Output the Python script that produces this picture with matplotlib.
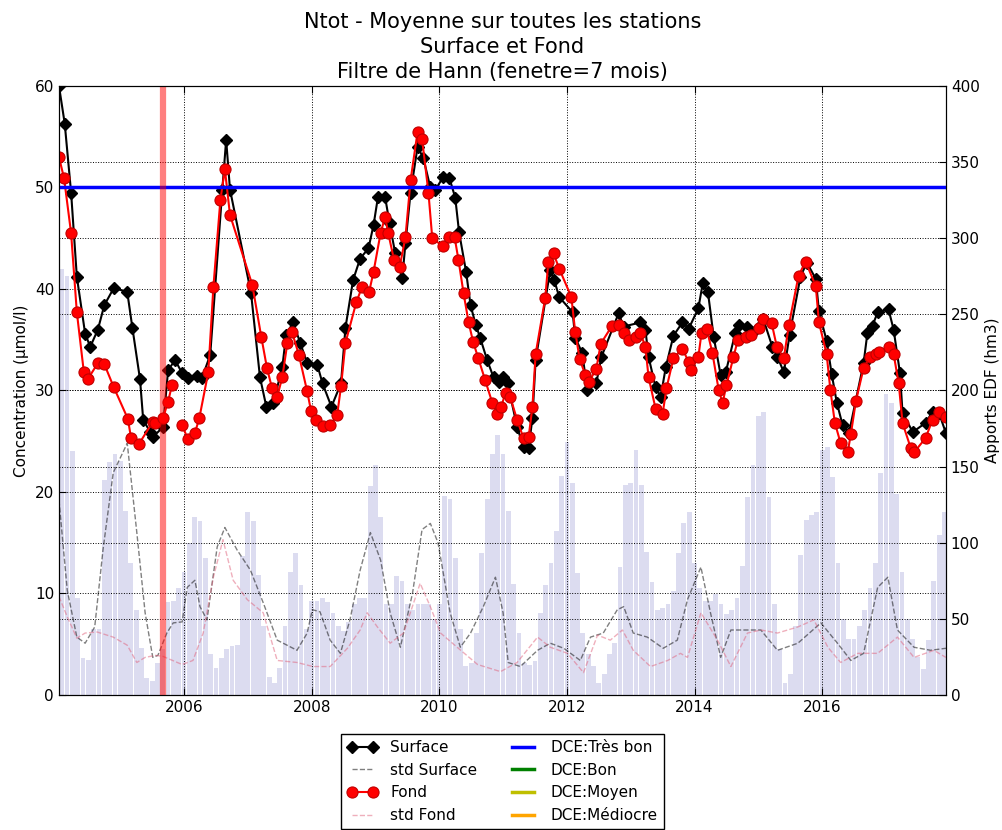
import matplotlib
matplotlib.use("Agg")
import numpy as np
import matplotlib.pyplot as plt

# ---- Ntot, mean over all stations (Hann-filtered, 7-month window) ----
surface_t = [2004.04, 2004.13, 2004.23, 2004.32, 2004.45, 2004.53, 2004.65, 2004.75, 2004.90,
             2005.11, 2005.19, 2005.31, 2005.36, 2005.47, 2005.51, 2005.67, 2005.75, 2005.86,
             2005.97, 2006.06, 2006.20, 2006.28, 2006.41, 2006.60, 2006.66, 2006.72, 2007.05,
             2007.19, 2007.29, 2007.40, 2007.54, 2007.60, 2007.71, 2007.82, 2007.93, 2008.09,
             2008.17, 2008.31, 2008.46, 2008.53, 2008.65, 2008.76, 2008.89, 2008.97, 2009.04,
             2009.15, 2009.22, 2009.31, 2009.42, 2009.47, 2009.55, 2009.66, 2009.75, 2009.86,
             2009.94, 2010.06, 2010.16, 2010.25, 2010.31, 2010.42, 2010.49, 2010.57, 2010.64,
             2010.75, 2010.85, 2010.93, 2011.00, 2011.07, 2011.22, 2011.32, 2011.40, 2011.46,
             2011.51, 2011.74, 2011.80, 2011.88, 2012.09, 2012.13, 2012.24, 2012.32, 2012.46,
             2012.54, 2012.81, 2012.89, 2013.15, 2013.23, 2013.28, 2013.39, 2013.47, 2013.55,
             2013.67, 2013.81, 2013.91, 2014.06, 2014.13, 2014.21, 2014.30, 2014.41, 2014.49,
             2014.64, 2014.69, 2014.83, 2014.90, 2015.01, 2015.08, 2015.22, 2015.30, 2015.40,
             2015.49, 2015.66, 2015.76, 2015.90, 2015.95, 2016.07, 2016.15, 2016.23, 2016.32,
             2016.42, 2016.65, 2016.71, 2016.79, 2016.87, 2017.04, 2017.12, 2017.22, 2017.26,
             2017.42, 2017.62, 2017.73, 2017.83, 2017.94]
surface_v = [60.0, 56.3, 49.5, 41.2, 35.6, 34.3, 36.0, 38.4, 40.1,
             39.7, 36.2, 31.1, 27.1, 25.9, 25.4, 26.4, 32.0, 33.0,
             31.7, 31.2, 31.4, 31.2, 33.5, 49.8, 54.7, 49.8, 39.6,
             31.3, 28.4, 28.8, 32.3, 35.5, 36.7, 34.7, 32.7, 32.5,
             30.7, 28.4, 30.7, 36.2, 40.9, 43.0, 44.0, 46.3, 49.1,
             49.1, 46.5, 43.5, 41.1, 44.5, 49.5, 54.0, 52.9, 50.0,
             49.8, 51.0, 50.9, 49.0, 45.6, 41.7, 38.4, 36.5, 35.2,
             33.0, 31.3, 30.8, 31.3, 30.7, 26.4, 24.4, 24.3, 27.3,
             33.0, 41.9, 40.9, 39.2, 37.7, 35.2, 33.7, 30.0, 30.7,
             33.3, 37.6, 36.3, 36.7, 36.0, 33.3, 30.3, 29.4, 32.3,
             35.4, 36.7, 36.1, 38.1, 40.6, 39.7, 35.3, 31.5, 31.8,
             35.7, 36.5, 36.3, 35.7, 36.3, 37.0, 34.3, 33.3, 31.8,
             35.5, 41.2, 42.6, 41.0, 37.8, 34.9, 31.6, 28.8, 26.6,
             25.8, 32.7, 35.7, 36.4, 37.7, 38.0, 36.0, 31.7, 27.8,
             25.9, 26.8, 27.9, 27.8, 25.8]

fond_t = [2004.04, 2004.12, 2004.23, 2004.32, 2004.43, 2004.49, 2004.65, 2004.75, 2004.90,
          2005.12, 2005.17, 2005.29, 2005.51, 2005.55, 2005.67, 2005.75, 2005.81, 2005.89,
          2005.97, 2006.06, 2006.17, 2006.24, 2006.38, 2006.46, 2006.57, 2006.64, 2006.72,
          2007.07, 2007.21, 2007.30, 2007.38, 2007.46, 2007.54, 2007.62, 2007.69, 2007.80,
          2007.93, 2007.99, 2008.07, 2008.17, 2008.29, 2008.40, 2008.46, 2008.53, 2008.70,
          2008.79, 2008.90, 2008.97, 2009.08, 2009.15, 2009.20, 2009.29, 2009.38, 2009.47,
          2009.55, 2009.66, 2009.73, 2009.83, 2009.89, 2010.06, 2010.16, 2010.24, 2010.30,
          2010.38, 2010.46, 2010.53, 2010.61, 2010.72, 2010.83, 2010.91, 2010.97, 2011.04,
          2011.11, 2011.22, 2011.32, 2011.40, 2011.46, 2011.51, 2011.66, 2011.71, 2011.79,
          2011.88, 2012.07, 2012.13, 2012.20, 2012.29, 2012.34, 2012.46, 2012.53, 2012.71,
          2012.81, 2012.89, 2012.97, 2013.08, 2013.15, 2013.23, 2013.28, 2013.39, 2013.50,
          2013.56, 2013.67, 2013.81, 2013.91, 2013.95, 2014.06, 2014.11, 2014.19, 2014.28,
          2014.38, 2014.44, 2014.50, 2014.61, 2014.68, 2014.80, 2014.88, 2015.01, 2015.08,
          2015.21, 2015.29, 2015.40, 2015.48, 2015.63, 2015.74, 2015.90, 2015.95, 2016.07,
          2016.13, 2016.20, 2016.29, 2016.40, 2016.45, 2016.53, 2016.65, 2016.75, 2016.84,
          2016.89, 2017.04, 2017.12, 2017.20, 2017.26, 2017.39, 2017.44, 2017.62, 2017.73,
          2017.83, 2017.94]
fond_v = [53.0, 50.9, 45.5, 37.7, 31.8, 31.1, 32.7, 32.6, 30.3,
          27.2, 25.3, 24.7, 26.9, 26.8, 27.3, 28.9, 30.5, np.nan,
          26.6, 25.2, 25.8, 27.3, 31.8, 40.2, 48.8, 51.8, 47.3,
          40.4, 35.3, 32.2, 30.2, 29.4, 31.3, 34.7, 35.8, 33.5,
          29.9, 28.0, 27.1, 26.5, 26.6, 27.6, 30.4, 34.7, 38.7,
          40.2, 39.7, 41.7, 45.5, 47.1, 45.5, 42.9, 42.2, 45.1,
          50.7, 55.5, 54.8, 49.5, 45.0, 44.2, 45.1, 45.1, 42.9,
          39.6, 36.7, 34.8, 33.2, 31.0, 28.8, 27.7, 28.4, 29.8,
          29.4, 27.1, 25.3, 25.4, 28.4, 33.6, 39.1, 42.7, 43.5,
          42.0, 39.2, 35.8, 33.1, 31.5, 30.8, 32.1, 34.6, 36.4,
          36.5, 35.7, 35.0, 35.3, 35.7, 34.3, 31.3, 28.2, 27.7,
          30.2, 33.2, 34.1, 32.8, 32.0, 33.3, 35.7, 36.1, 33.7,
          30.0, 28.8, 30.5, 33.3, 35.0, 35.3, 35.5, 36.2, 37.0,
          36.6, 34.3, 33.2, 36.5, 41.3, 42.7, 40.3, 36.7, 33.6,
          30.0, 26.8, 24.8, 23.9, 25.7, 29.0, 32.2, 33.3, 33.6,
          33.8, 34.3, 33.6, 30.7, 26.8, 24.3, 23.9, 25.3, 27.1,
          27.9, 27.4]

std_surface_t = [2004.04, 2004.17, 2004.32, 2004.45, 2004.60, 2004.73, 2004.89, 2005.11, 2005.26,
                 2005.39, 2005.51, 2005.59, 2005.73, 2005.83, 2005.97, 2006.05, 2006.17, 2006.25,
                 2006.36, 2006.52, 2006.64, 2006.83, 2007.04, 2007.24, 2007.46, 2007.77, 2007.93,
                 2008.01, 2008.13, 2008.29, 2008.45, 2008.60, 2008.76, 2008.92, 2009.08, 2009.23,
                 2009.39, 2009.58, 2009.73, 2009.86, 2009.98, 2010.17, 2010.33, 2010.49, 2010.69,
                 2010.88, 2011.00, 2011.08, 2011.27, 2011.54, 2011.74, 2011.95, 2012.21, 2012.37,
                 2012.57, 2012.79, 2012.89, 2013.04, 2013.26, 2013.51, 2013.73, 2013.89, 2014.10,
                 2014.25, 2014.41, 2014.57, 2014.83, 2015.04, 2015.30, 2015.62, 2015.98, 2016.24,
                 2016.45, 2016.65, 2016.87, 2017.03, 2017.18, 2017.44, 2017.70, 2017.94]
std_surface_v = [19.2, 10.3, 5.7, 5.1, 6.7, 14.3, 21.9, 24.8, 16.0,
                 8.1, 3.7, 3.9, 6.1, 7.1, 7.2, 10.6, 11.3, 8.7,
                 7.4, 14.6, 16.5, 14.3, 12.3, 9.1, 5.4, 4.4, 6.1,
                 8.4, 8.2, 5.4, 4.1, 7.4, 12.3, 16.0, 13.3, 8.1,
                 4.7, 10.0, 16.3, 16.9, 15.0, 8.1, 4.7, 6.1, 8.7,
                 11.6, 8.1, 3.2, 2.8, 4.4, 5.1, 4.6, 3.4, 5.7,
                 6.1, 8.4, 8.7, 6.1, 5.7, 4.6, 5.4, 9.4, 12.6,
                 8.1, 3.7, 6.4, 6.4, 6.4, 4.4, 5.1, 7.1, 5.1,
                 3.4, 4.1, 10.6, 11.6, 6.4, 4.7, 4.4, 4.6]

std_fond_t = [2004.04, 2004.17, 2004.32, 2004.45, 2004.64, 2004.89, 2005.11, 2005.26, 2005.39,
              2005.55, 2005.67, 2005.97, 2006.14, 2006.30, 2006.46, 2006.61, 2006.77, 2006.99,
              2007.24, 2007.46, 2007.77, 2008.02, 2008.29, 2008.56, 2008.76, 2008.87, 2009.03,
              2009.23, 2009.44, 2009.70, 2009.86, 2010.02, 2010.28, 2010.60, 2010.96, 2011.22,
              2011.54, 2011.74, 2012.01, 2012.26, 2012.48, 2012.68, 2012.87, 2013.04, 2013.31,
              2013.58, 2013.78, 2013.89, 2014.10, 2014.36, 2014.57, 2014.83, 2015.04, 2015.30,
              2015.62, 2015.87, 2016.09, 2016.29, 2016.56, 2016.87, 2017.18, 2017.44, 2017.75,
              2017.94]
std_fond_v = [9.7, 7.7, 5.6, 6.1, 6.2, 5.7, 4.9, 3.2, 3.7,
              3.9, 3.8, 3.0, 3.4, 6.1, 11.6, 15.3, 11.3, 9.4,
              8.1, 3.4, 3.2, 2.8, 2.8, 4.6, 6.4, 8.1, 6.7,
              5.1, 6.1, 11.0, 8.7, 6.1, 4.7, 3.0, 2.3, 3.2,
              5.7, 4.7, 4.1, 2.2, 5.9, 5.4, 6.4, 4.4, 2.8,
              3.4, 4.1, 3.7, 8.1, 5.4, 2.8, 6.1, 6.4, 6.1,
              6.7, 7.4, 4.7, 3.2, 4.1, 4.1, 5.7, 3.7, 4.4,
              3.7]

# Monthly EDF inflows (hm3), January 2004 to December 2017
apports_edf = [280, 280, 275, 160, 64, 24, 23, 43, 43, 141, 153, 158,
               154, 121, 87, 56, 31, 11, 9, 21, 30, 61, 62, 70,
               81, 100, 117, 114, 90, 27, 18, 24, 30, 32, 33, 91,
               120, 114, 79, 45, 12, 8, 18, 45, 81, 93, 72, 43,
               62, 62, 64, 61, 54, 45, 42, 48, 60, 64, 64, 137,
               151, 117, 60, 60, 78, 75, 60, 56, 60, 60, 60, 50,
               60, 131, 129, 90, 43, 19, 21, 41, 93, 129, 158, 171,
               158, 121, 73, 41, 21, 20, 22, 54, 72, 87, 108, 144,
               166, 139, 80, 41, 27, 19, 8, 14, 27, 34, 84, 138,
               139, 161, 138, 94, 74, 56, 57, 60, 68, 93, 113, 120,
               87, 70, 62, 62, 66, 60, 53, 56, 64, 85, 130, 151,
               183, 186, 130, 60, 30, 8, 14, 45, 92, 115, 118, 120,
               161, 163, 143, 87, 50, 37, 37, 45, 56, 70, 87, 146,
               198, 192, 132, 81, 50, 37, 25, 17, 36, 75, 105, 120]

# DCE quality thresholds
dce_labels = ["DCE:Très bon", "DCE:Bon", "DCE:Moyen", "DCE:Médiocre"]
dce_levels = [50, 75, 100, 150]
dce_colors = ["#0000ff", "#008000", "#bfbf00", "#ffa500"]

event_date = 2005.67
year_ticks = [2006, 2008, 2010, 2012, 2014, 2016]

plt.rcParams["font.family"] = ["DejaVu Sans"]

fig = plt.figure(figsize=(10.03, 8.30), dpi=100)
ax1 = fig.add_axes([0.0588, 0.1627, 0.8843, 0.7337])
ax2 = ax1.twinx()

month_starts = 2004 + np.arange(len(apports_edf)) / 12.0
ax2.bar(month_starts, apports_edf, width=0.075, color="#dcdcf0", edgecolor="none")
ax2.set_ylim(0, 400)
ax2.set_yticks(np.arange(0, 401, 50))
ax2.grid(True, axis="y", linestyle=":", color="k", linewidth=0.7)
ax2.set_ylabel("Apports EDF (hm3)", fontsize=11)

ax1.set_zorder(ax2.get_zorder() + 1)
ax1.patch.set_visible(False)

h_surf, = ax1.plot(surface_t, surface_v, "-", color="k", marker="D", ms=6, lw=1.5,
                   label="Surface")
h_ssurf, = ax1.plot(std_surface_t, std_surface_v, "--", color="k", alpha=0.5, lw=1,
                    label="std Surface")
h_fond, = ax1.plot(fond_t, fond_v, "-", color="r", marker="o", ms=8, mec="#c00000",
                   mew=0.8, lw=1.5, label="Fond")
h_sfond, = ax1.plot(std_fond_t, std_fond_v, "--", color="#e0607a", alpha=0.5, lw=1,
                    label="std Fond")
dce_handles = []
for lvl, lab, col in zip(dce_levels, dce_labels, dce_colors):
    dce_handles.append(ax1.axhline(lvl, color=col, lw=2.5, label=lab))
ax1.axvline(event_date, color="r", alpha=0.5, lw=4.5)

ax1.set_xlim(2004.04, 2017.94)
ax1.set_ylim(0, 60)
ax1.set_xticks(year_ticks)
ax1.set_xticklabels([str(y) for y in year_ticks])
ax1.set_yticks(np.arange(0, 61, 10))
ax1.grid(True, linestyle=":", color="k", linewidth=0.7)
ax1.set_ylabel("Concentration (µmol/l)", fontsize=11)
ax1.tick_params(direction="in", labelsize=11, top=True, length=5)
ax2.tick_params(direction="in", labelsize=11, length=5)

ax1.set_title("Ntot - Moyenne sur toutes les stations\nSurface et Fond\n"
              "Filtre de Hann (fenetre=7 mois)", fontsize=15, pad=6,
              linespacing=1.3)

ax1.legend(handles=[h_surf, h_ssurf, h_fond, h_sfond] + dce_handles,
           loc="upper center", bbox_to_anchor=(0.5, -0.064), ncol=2, fontsize=11,
           numpoints=2, fancybox=False, edgecolor="k", framealpha=1,
           borderaxespad=0, handlelength=2)

fig.savefig("out.png", dpi=100)
